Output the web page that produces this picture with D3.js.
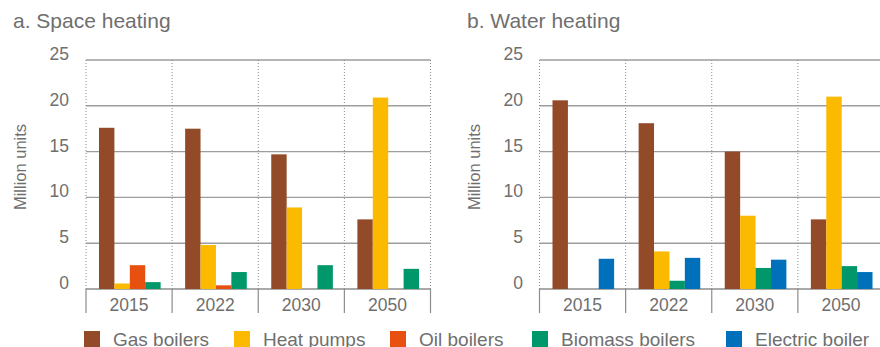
<!DOCTYPE html>
<html>
<head>
<meta charset="utf-8">
<script src="https://cdn.jsdelivr.net/npm/d3@7"></script>
<style>
  html, body { margin: 0; padding: 0; background: #fff; }
  svg { display: block; }
  text { font-family: "Liberation Sans", Arial, sans-serif; fill: #6f6f6f; }
</style>
</head>
<body>
<svg id="chart" width="880" height="347"></svg>
<script>
// ---- data ----
const years = ["2015", "2022", "2030", "2050"];
const yTicks = [0, 5, 10, 15, 20, 25];
const seriesNames = ["Gas boilers", "Heat pumps", "Oil boilers", "Biomass boilers", "Electric boiler"];
const seriesColors = ["#934a29", "#fbb900", "#e8500f", "#00976a", "#0070ba"];

// Space heating
const spaceGas      = [17.6, 17.5, 14.7, 7.6];
const spaceHeatPump = [0.6, 4.8, 8.9, 20.9];
const spaceOil      = [2.6, 0.4, 0, 0];
const spaceBiomass  = [0.75, 1.85, 2.6, 2.2];

// Water heating
const waterGas      = [20.6, 18.1, 15.0, 7.6];
const waterHeatPump = [0, 4.1, 8.0, 21.0];
const waterBiomass  = [0, 0.9, 2.3, 2.5];
const waterElectric = [3.3, 3.4, 3.2, 1.85];

const panels = [
  { title: "a. Space heating", titleX: 13, yLabelX: 20, tickX: 69, x0: 86, x1: 430.5,
    series: [
      { name: "Gas boilers", values: spaceGas },
      { name: "Heat pumps", values: spaceHeatPump },
      { name: "Oil boilers", values: spaceOil },
      { name: "Biomass boilers", values: spaceBiomass }
    ] },
  { title: "b. Water heating", titleX: 467, yLabelX: 474, tickX: 523, x0: 539.5, x1: 884,
    series: [
      { name: "Gas boilers", values: waterGas },
      { name: "Heat pumps", values: waterHeatPump },
      { name: "Biomass boilers", values: waterBiomass },
      { name: "Electric boiler", values: waterElectric }
    ] }
];

const color = d3.scaleOrdinal().domain(seriesNames).range(seriesColors);
const svg = d3.select("#chart");
const y = d3.scaleLinear().domain([0, 25]).range([289, 60]);

panels.forEach(p => {
  const g = svg.append("g");
  const x = d3.scaleBand().domain(years).range([p.x0, p.x1]).padding(0);
  const bw = x.bandwidth();
  const x1 = d3.scaleBand().domain(p.series.map(s => s.name))
    .range([13, bw - 11.5]).padding(0);

  // title
  g.append("text").attr("x", p.titleX).attr("y", 28)
    .style("font-size", "21px").text(p.title);

  // horizontal grid
  g.append("g").selectAll("line").data(yTicks).join("line")
    .attr("x1", p.x0).attr("x2", p.x1)
    .attr("y1", d => y(d)).attr("y2", d => y(d))
    .attr("stroke", d => d === 0 ? "#8c8c8c" : "#9d9d9d")
    .attr("stroke-width", 1.4);

  // vertical dotted separators
  const bounds = years.map(d => x(d)).concat([p.x1]);
  g.append("g").selectAll("line").data(bounds).join("line")
    .attr("x1", d => d).attr("x2", d => d)
    .attr("y1", y(25)).attr("y2", y(0))
    .attr("stroke", "#8a8a8a").attr("stroke-width", 1)
    .attr("stroke-dasharray", "1,2");

  // solid category ticks below axis
  g.append("g").selectAll("line").data(bounds).join("line")
    .attr("x1", d => d).attr("x2", d => d)
    .attr("y1", y(0)).attr("y2", 313)
    .attr("stroke", "#8c8c8c").attr("stroke-width", 1.2);

  // y tick labels
  g.append("g").selectAll("text").data(yTicks).join("text")
    .attr("x", p.tickX).attr("y", d => y(d))
    .attr("text-anchor", "end")
    .style("font-size", "17.5px").text(d => d);

  // y axis label
  g.append("text")
    .attr("transform", `translate(${p.yLabelX},167) rotate(-90)`)
    .attr("text-anchor", "middle").attr("dy", "0.35em")
    .style("font-size", "16.5px").text("Million units");

  // year labels
  g.append("g").selectAll("text").data(years).join("text")
    .attr("x", d => x(d) + bw / 2).attr("y", 311)
    .attr("text-anchor", "middle")
    .style("font-size", "17.5px").text(d => d);

  // bars
  const groups = g.append("g").selectAll("g").data(years).join("g")
    .attr("transform", d => `translate(${x(d)},0)`);
  groups.selectAll("rect")
    .data((yr, i) => p.series.map(s => ({ name: s.name, v: s.values[i] })))
    .join("rect")
    .attr("x", d => x1(d.name))
    .attr("width", x1.bandwidth())
    .attr("y", d => y(d.v))
    .attr("height", d => y(0) - y(d.v))
    .attr("fill", d => color(d.name));
});

// legend
const legendX = [84, 234, 390, 532, 726];
const lg = svg.append("g");
const items = lg.selectAll("g").data(seriesNames).join("g")
  .attr("transform", (d, i) => `translate(${legendX[i]},331)`);
items.append("rect").attr("width", 16).attr("height", 16)
  .attr("fill", d => color(d));
items.append("text").attr("x", 29).attr("y", 14.5)
  .style("font-size", "19px").text(d => d);
</script>
</body>
</html>
